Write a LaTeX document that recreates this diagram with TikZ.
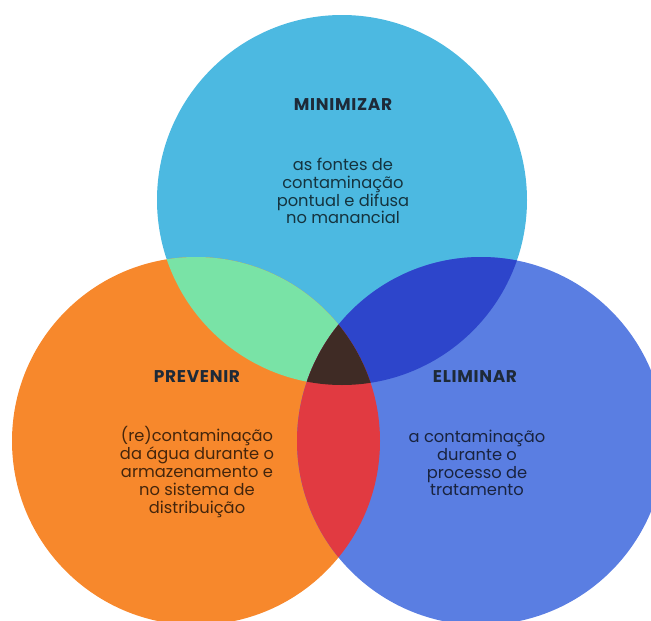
\documentclass[tikz,border=0pt]{standalone}
\usepackage{fontspec}
\setmainfont{Poppins}
\definecolor{topblue}{HTML}{4CB9E1}
\definecolor{leftorange}{HTML}{F7882C}
\definecolor{rightblue}{HTML}{5A7EE2}
\definecolor{greenlens}{HTML}{79E3A6}
\definecolor{darklens}{HTML}{2D45CB}
\definecolor{redlens}{HTML}{E13A41}
\definecolor{corelens}{HTML}{3F2B25}
\definecolor{headtext}{HTML}{1E2A38}
\newcommand\TopCircle{(342,200) circle (185pt)}
\newcommand\LeftCircle{(196,441) circle (184pt)}
\newcommand\RightCircle{(481,441) circle (184pt)}
\newcommand\Lens[3]{%
    \begin{scope}
        \clip #1;
        \fill[#3] #2;
    \end{scope}
}

\begin{document}
\begin{tikzpicture}[x=1pt,y=-1pt,
    head/.style={font=\fontsize{17}{19}\selectfont\bfseries\addfontfeatures{LetterSpace=4},text=headtext},
    body/.style={align=center,font=\fontsize{16.3}{17.8}\selectfont,text=black,text opacity=0.72}]
    \useasboundingbox (0,0) rectangle (651,621);
    \clip (0,0) rectangle (651,621);
    % circles
    \fill[topblue] \TopCircle;
    \fill[leftorange] \LeftCircle;
    \fill[rightblue] \RightCircle;
    % overlaps
    \Lens{\TopCircle}{\LeftCircle}{greenlens}
    \Lens{\TopCircle}{\RightCircle}{darklens}
    \Lens{\LeftCircle}{\RightCircle}{redlens}
    \begin{scope}
        \clip \TopCircle;
        \clip \LeftCircle;
        \fill[corelens] \RightCircle;
    \end{scope}
    % texts
    \node[head] (minHead) at (343,105) {MINIMIZAR};
    \node[body] (minText) at (343,191) {as fontes de\\contaminação\\pontual e difusa\\no manancial};
    \node[head] (prevHead) at (197,377) {PREVENIR};
    \node[body] (prevText) at (197,472) {(re)contaminação\\da água durante o\\armazenamento e\\no sistema de\\distribuição};
    \node[head] (elimHead) at (475,377) {ELIMINAR};
    \node[body] (elimText) at (477,463) {a contaminação\\durante o\\processo de\\tratamento};
\end{tikzpicture}
\end{document}
